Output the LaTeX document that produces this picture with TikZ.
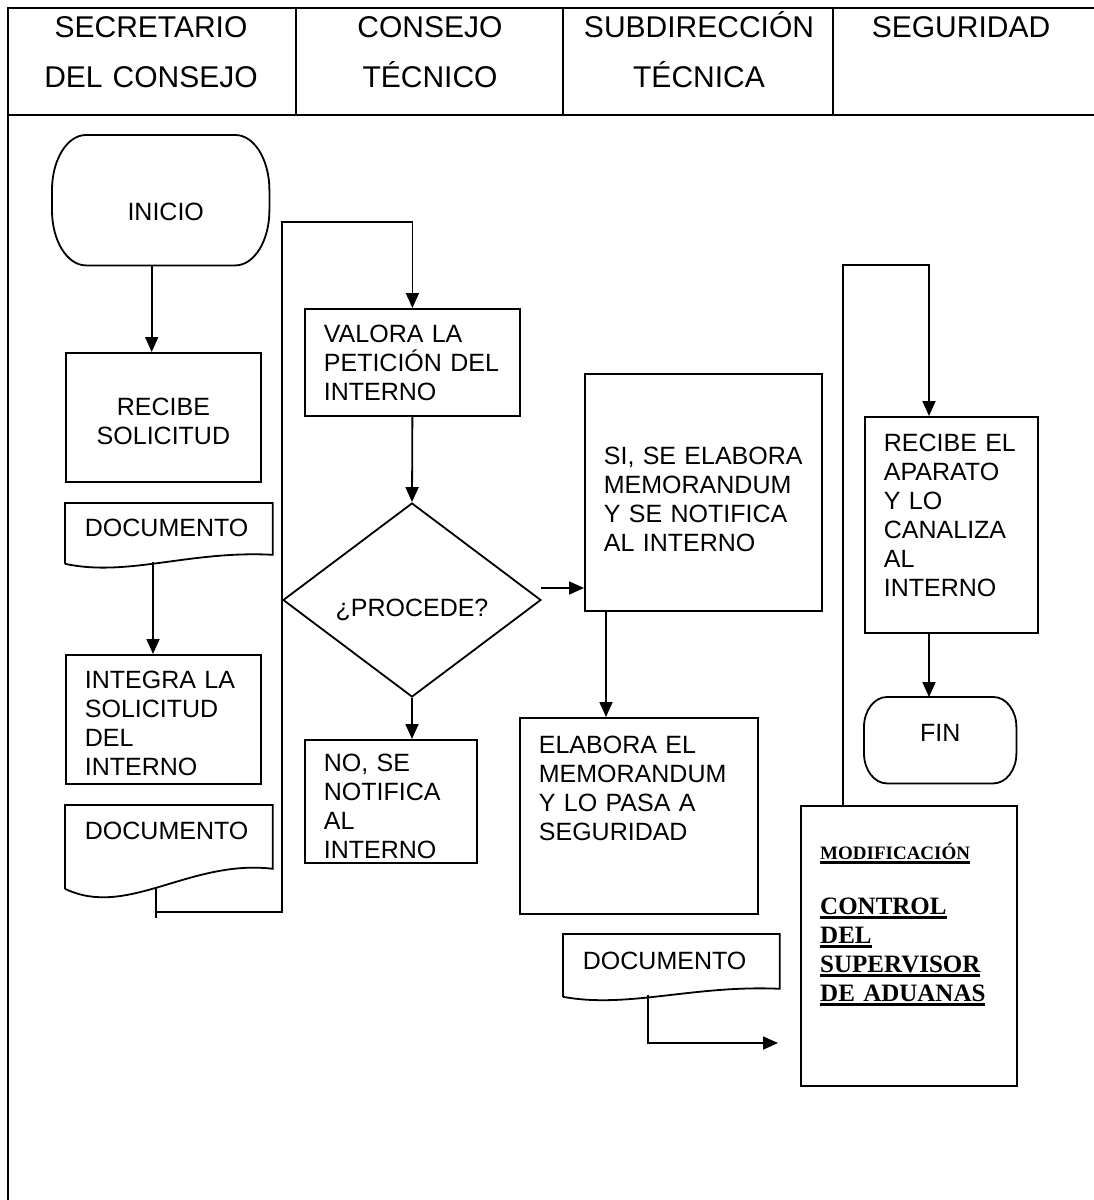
\documentclass[tikz,border=0pt]{standalone}
\usepackage{fontspec}
\setmainfont{Liberation Sans}
\newfontfamily\serifbf{Liberation Serif}
\usetikzlibrary{arrows.meta,shapes.geometric,calc}
\newcommand{\flowtext}{\fontsize{25}{29}\selectfont}
\newcommand{\headtext}{\fontsize{30}{50}\selectfont}
\newcommand{\ulbar}[1]{\leavevmode\setbox0\hbox{#1}\rlap{\rule[-5pt]{\wd0}{3pt}}\box0}
% terminal outline: node, x radius, y radius
\newcommand{\termshape}[3]{%
  \draw[flowline] ([xshift=#2]#1.north west) -- ([xshift=-#2]#1.north east)
    arc[start angle=90,end angle=0,x radius=#2,y radius=#3]
    -- ([yshift=#3]#1.south east)
    arc[start angle=0,end angle=-90,x radius=#2,y radius=#3]
    -- ([xshift=#2]#1.south west)
    arc[start angle=270,end angle=180,x radius=#2,y radius=#3]
    -- ([yshift=-#3]#1.north west)
    arc[start angle=180,end angle=90,x radius=#2,y radius=#3] -- cycle;}
% document outline: node, rise of the wavy bottom
\newcommand{\docshape}[2]{%
  \draw[flowline] (#1.south west) -- (#1.north west) -- (#1.north east)
    -- ([yshift=#2]#1.south east)
    .. controls ($(#1.south west)!0.6!(#1.south east)+(0,1.5*#2)$)
       and ($(#1.south west)!0.3!(#1.south east)-(0,1.5*#2)$) .. (#1.south west);}
\tikzset{
  flowline/.style={draw=black, line width=1.8pt},
  frame/.style={draw=black, line width=2.6pt},
  proc/.style={flowline, anchor=north west, inner xsep=19pt, inner ysep=0pt,
    align=left, font=\flowtext},
  docu/.style={proc, draw=none},
  term/.style={anchor=north west, inner sep=0pt, font=\flowtext},
  decision/.style={flowline, diamond, minimum width=258pt, minimum height=194pt,
    inner sep=0pt, font=\flowtext},
  arr/.style={-{Triangle[length=15pt,width=13pt]}, line width=1.8pt},
  lane/.style={anchor=base, text width=260pt, align=center, font=\headtext}
}
\begin{document}
\begin{tikzpicture}[x=1pt, y=1pt]
  \path[use as bounding box, fill=white] (0,0) rectangle (1093,-1200);
  % lanes
  \draw[frame] (8,-8) rectangle (1110,-115);
  \foreach \x in {296,563,833}
    \draw[frame, line width=2pt] (\x,-8) -- (\x,-115);
  \draw[frame] (8,-115) rectangle (1110,-1215);
  \node[lane] (secr) at (151,-37) {SECRETARIO\\DEL CONSEJO};
  \node[lane] (cons) at (430,-37) {CONSEJO\\TÉCNICO};
  \node[lane] (subd) at (699,-37) {SUBDIRECCIÓN\\TÉCNICA};
  \node[lane] (segu) at (961,-37) {SEGURIDAD};

  % secretario del consejo
  \node[term, minimum width=217pt, text height=85pt, text depth=45pt] (inicio) at (52,-135) {\hspace*{10pt}INICIO};
  \termshape{inicio}{34pt}{55pt}
  \node[proc, align=center, text width=157pt, text height=63pt, text depth=66pt] (recibe) at (65,-352) {RECIBE\\SOLICITUD};
  \node[docu, text width=168pt, text height=33pt, text depth=26pt] (doc1) at (65,-503) {DOCUMENTO};
  \docshape{doc1}{9pt}
  \node[proc, text width=157pt, text height=34pt, text depth=95pt] (integra) at (65,-654) {INTEGRA LA\\SOLICITUD\\DEL\\INTERNO};
  \node[docu, text width=168pt, text height=34pt, text depth=48pt] (doc2) at (65,-805) {DOCUMENTO};
  \docshape{doc2}{20pt}

  % consejo tecnico
  \node[proc, text width=177pt, text height=34pt, text depth=73pt] (valora) at (304,-308) {VALORA LA\\PETICIÓN DEL\\INTERNO};
  \node[decision, text height=32pt, text depth=0pt] (dec) at (412,-600) {¿PROCEDE?};
  \node[proc, text width=134pt, text height=32pt, text depth=91pt] (no) at (304,-739) {NO, SE\\NOTIFICA\\AL\\INTERNO};

  % subdireccion tecnica
  \node[proc, text width=199pt, text height=91pt, text depth=146pt] (si) at (584,-373) {SI, SE ELABORA\\MEMORANDUM\\Y SE NOTIFICA\\AL INTERNO};
  \node[proc, text width=200pt, text height=36pt, text depth=160pt] (elab) at (519,-717) {ELABORA EL\\MEMORANDUM\\Y LO PASA A\\SEGURIDAD};
  \node[docu, text width=177pt, text height=35pt, text depth=26pt] (doc3) at (563,-934) {DOCUMENTO};
  \docshape{doc3}{8pt}

  % seguridad
  \node[proc, text width=135pt, text height=35pt, text depth=181pt] (rec2) at (864,-416) {RECIBE EL\\APARATO\\Y LO\\CANALIZA\\AL\\INTERNO};
  \node[term, minimum width=152pt, text height=44pt, text depth=42pt] (fin) at (864,-697) {FIN};
  \termshape{fin}{23pt}{30pt}
  \node[proc, line width=2.4pt, text width=178pt, text height=53pt, text depth=227pt,
    font={\flowtext\serifbf\bfseries}] (mod) at (800,-805)
    {{\fontsize{19}{22}\selectfont\ulbar{MODIFICACIÓN}}\\[26pt]\ulbar{CONTROL}\\\ulbar{DEL}\\\ulbar{SUPERVISOR}\\\ulbar{DE ADUANAS}};

  % connectors
  \coordinate (iniout) at ([xshift=-9pt]inicio.south);
  \draw[arr] (iniout) -- (iniout |- recibe.north);
  \coordinate (d1out) at ([xshift=88pt,yshift=2pt]doc1.south west);
  \draw[arr] (d1out) -- (d1out |- integra.north);
  \coordinate (d2out) at ([xshift=91pt,yshift=2pt]doc2.south west);
  \coordinate (loopbot) at (156,-912);
  \coordinate (looptop) at (282,-222);
  \draw[flowline] (d2out) -- ++(0,-31);
  \draw[arr] (loopbot) -| (looptop) -| (valora.north);
  \draw[arr] (valora.south) -- (dec.north);
  \coordinate (decout) at ([xshift=-1pt,yshift=12pt]dec.east);
  \draw[arr] (decout) -- (decout -| si.west);
  \draw[arr] (dec.south) -- (dec.south |- no.north);
  \coordinate (siout) at ([xshift=22pt]si.south west);
  \draw[arr] (siout) -- (siout |- elab.north);
  \coordinate (d3out) at ([xshift=85pt,yshift=2pt]doc3.south west);
  \coordinate (d3end) at (778,-1043);
  \draw[arr] (d3out) |- (d3end);
  \coordinate (modout) at ([xshift=43pt]mod.north west);
  \coordinate (rec2in) at ([xshift=65pt]rec2.north west);
  \draw[arr] (modout) -- ++(0,540) -| (rec2in);
  \coordinate (rec2out) at ([xshift=65pt]rec2.south west);
  \draw[arr] (rec2out) -- (rec2out |- fin.north);
\end{tikzpicture}
\end{document}
